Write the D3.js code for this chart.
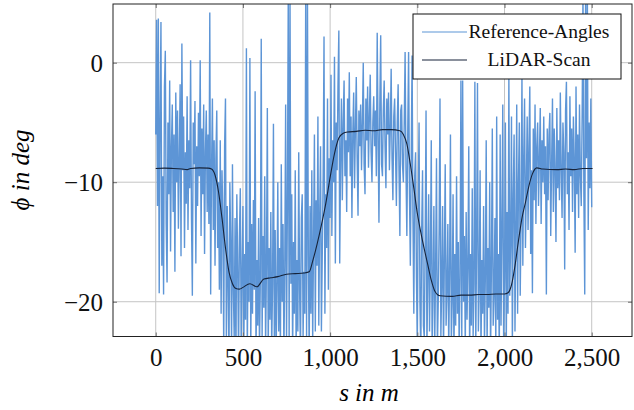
<!DOCTYPE html>
<html>
<head>
<meta charset="utf-8">
<script src="https://cdn.jsdelivr.net/npm/d3@7"></script>
<style>
  body { margin: 0; background: #fff; }
  svg { display: block; }
  .serif { font-family: "Times New Roman", "Liberation Serif", "DejaVu Serif", "Noto Serif", serif; }
</style>
</head>
<body>
<div id="chart"></div>
<script>
// reference angles, one value every 5 m (0 .. 2500 m)
let refStep = 5;
let refPhi = [
  -6.0, 3.6, -12.0, 3.7, -19.3, -4.5, 3.4, -17.0, -9.5, -19.4,       // 0
  -2.0, 1.0, -13.5, -18.4, -5.0, -11.0, -1.5, -15.8, -7.0, -3.5,     // 50
  -12.5, -6.0, -17.5, -2.5, -10.0, -4.0, -13.9, -8.0, -1.8, -16.2,   // 100
  1.6, -9.0, -4.5, -15.5, -7.5, -11.8, -2.8, -14.0, -6.5, -10.5,     // 150
  0.2, -13.0, -19.5, -5.0, -8.5, -3.2, -16.8, -7.0, -12.0, -4.2,     // 200
  -9.5, 0.2, -14.5, -5.5, -11.0, -3.5, -16.0, -7.5, -4.0, -12.5,     // 250
  -6.0, -13.5, 4.2, -19.4, -9.0, -3.0, -14.0, -6.5, -17.0, -8.0,     // 300
  -4.0, -15.5, -10.0, -19.0, -6.5, -21.0, -9.0, -13.0, -24.0, -7.0,  // 350
  -3.0, -23.5, -12.0, -18.5, -25.0, -10.0, -15.0, -24.0, -8.5, -19.0, // 400
  -23.0, -13.0, -25.0, -11.0, -17.0, -24.5, -14.5, -10.5, -23.5, -18.0, // 450
  -12.0, -24.0, -16.0, -21.5, 1.2, -24.5, -15.0, -20.0, 0.4, -24.0,  // 500
  -13.5, -21.0, -11.5, -19.0, -2.4, -24.5, -16.5, -22.0, -13.0, -24.0, // 550
  -18.0, 2.0, -23.0, -14.5, -20.5, -9.5, -24.0, -17.0, -3.8, -24.5,  // 600
  -15.5, -21.5, -12.5, -24.0, -18.5, -5.1, -23.0, -14.0, -24.5, -19.0, // 650
  -10.0, -22.5, -15.5, -24.0, -8.5, -20.0, -13.5, -24.5, -17.0, -3.5, // 700
  -23.5, -12.0, 6.0, -24.0, 6.0, -18.5, -11.0, -24.5, -15.0, -21.0,  // 750
  -9.0, -24.0, -16.5, -22.5, -7.5, -19.0, -24.5, -13.0, -11.0, -23.0, // 800
  -17.5, -21.0, 6.0, -23.5, 6.0, -16.0, -24.5, -12.0, -21.0, -9.0,   // 850
  -23.5, -15.0, -6.0, -22.5, -11.5, -17.0, -4.5, -22.0, -13.0, -7.0, // 900
  -22.5, -16.0, -9.5, 2.2, -21.0, -11.0, -15.5, -3.0, -19.0, -8.0,   // 950
  -13.0, -1.0, -14.5, -6.5, -10.0, 0.5, -16.8, -5.0, -9.0, -2.0,     // 1000
  2.7, -16.8, -8.0, -3.0, -11.5, -5.0, -1.5, -9.5, -6.5, -12.5,      // 1050
  -3.0, -7.5, -0.8, -9.5, -4.5, -13.0, -6.0, -2.5, -10.5, -5.5,      // 1100
  -1.2, -8.0, -12.8, -4.0, -7.0, -3.5, -9.0, -5.0, 0.0, -8.5,        // 1150
  -11.0, -3.0, -6.5, -2.0, -8.8, -4.5, -1.0, -7.5, -10.0, -5.0,      // 1200
  -2.8, -7.0, -4.0, -9.5, 2.5, -6.0, -13.4, -3.5, 2.3, -8.5,         // 1250
  -9.5, -4.0, -1.5, -7.0, -10.5, -3.0, -6.0, -2.5, -9.0, -5.5,       // 1300
  -0.5, -8.0, -11.5, -4.5, -3.0, -7.5, -12.0, -5.0, -1.8, -9.0,      // 1350
  -14.5, -4.0, -3.5, -8.5, -10.0, -5.0, 0.9, -9.0, -14.5, -6.0,      // 1400
  0.9, -11.0, -17.0, -8.0, 0.6, -13.0, -21.0, -9.5, -7.5, -18.0,     // 1450
  -23.5, -12.0, -5.0, -20.0, -24.5, -14.0, -9.0, -22.0, -23.0, -15.0, // 1500
  -4.0, -24.0, -18.0, -11.0, -22.5, -16.5, -6.5, -24.5, -19.0, -12.0, // 1550
  -23.5, -17.0, -8.0, -24.0, -20.0, -14.0, -3.0, -23.0, -18.5, -12.0, // 1600
  -24.5, -16.5, -8.5, -22.0, -19.0, -13.5, -24.0, -17.5, -6.0, -23.5, // 1650
  -20.0, -11.0, -24.5, -16.0, -22.0, -9.5, -21.0, -15.0, -24.0, -18.0, // 1700
  -1.5, -23.5, -1.5, -20.0, -14.5, -24.0, -12.5, -21.5, -17.0, -7.0, // 1750
  -24.5, -16.0, -22.0, -10.5, -23.0, -18.5, -1.6, -24.0, -15.0, -1.7, // 1800
  -22.5, -19.0, -9.0, -24.5, -16.5, -21.0, -12.0, -23.5, -18.0, -6.5, // 1850
  -24.0, -15.5, -20.5, -10.0, -24.5, -17.0, -5.5, -22.0, -19.5, -13.0, // 1900
  -24.0, -4.5, -21.5, -16.0, -24.5, -6.0, -22.0, -14.0, -3.5, -23.5, // 1950
  -18.0, -5.0, -24.0, -12.5, -21.0, -1.0, -19.5, -15.0, -4.5, -24.0, // 2000
  -11.0, -6.0, -22.5, -14.0, -3.5, -21.0, -10.0, -5.0, -19.5, -13.0, // 2050
  -1.0, -17.0, -8.0, -3.0, -15.5, -10.5, -4.5, -14.0, -7.0, -2.0,    // 2100
  -16.0, -9.0, -19.3, -5.5, -11.5, -3.5, -13.5, -7.0, -5.0, -12.0,   // 2150
  -8.0, -3.8, -13.5, -6.5, -10.0, -4.5, -11.0, -7.0, -19.4, -5.5,    // 2200
  -11.5, -6.0, -4.2, -14.5, -8.5, -3.0, -12.5, -5.5, -9.0, -15.0,    // 2250
  -3.8, -10.5, -6.5, -11.5, -2.5, -9.0, -13.0, -5.0, -7.5, -17.3,    // 2300
  -4.0, -1.6, -11.0, -7.5, -14.0, -2.8, -9.5, -5.5, -12.5, -4.5,     // 2350
  -8.0, -15.9, -2.0, -11.0, -6.0, -13.0, -3.5, -9.5, -12.0, -4.5,    // 2400
  6.0, -11.0, -19.4, 6.0, -8.0, 6.0, -14.0, -5.0, -10.5, -3.0,       // 2450
  -12.1                                                              // 2500
];

// LiDAR scan
let lidarS = [0, 50, 100, 150, 180, 200, 250, 300, 320, 340, 360, 380, 400, 420, 440, 460, 480, 500, 540, 580,
  620, 660, 700, 750, 800, 850, 880, 900, 925, 950, 975, 1000, 1025, 1050, 1075, 1100, 1150, 1200, 1250, 1300,
  1350, 1400, 1420, 1440, 1460, 1480, 1500, 1520, 1540, 1560, 1580, 1600, 1630, 1700, 1750, 1800, 1850, 1900, 1950, 2000,
  2020, 2040, 2060, 2080, 2100, 2120, 2140, 2160, 2185, 2220, 2300, 2350, 2400, 2450, 2505];
let lidarPhi = [-8.85, -8.82, -8.85, -8.9, -8.95, -8.85, -8.8, -8.82, -8.9, -9.4, -10.8, -13.0, -15.5, -17.5, -18.5, -18.9, -18.95, -18.8, -18.5, -18.75,
  -18.1, -18.0, -17.9, -17.7, -17.65, -17.6, -17.5, -16.6, -15.2, -13.6, -11.8, -9.6, -7.6, -6.3, -5.9, -5.8, -5.75, -5.65, -5.7, -5.6,
  -5.6, -5.7, -6.0, -6.8, -8.5, -10.5, -12.6, -14.2, -15.6, -16.9, -18.2, -19.1, -19.5, -19.55, -19.45, -19.45, -19.4, -19.4, -19.35, -19.35,
  -19.25, -18.6, -17.0, -14.9, -13.0, -11.7, -10.3, -9.3, -8.8, -8.9, -8.95, -8.9, -8.95, -8.85, -8.85];

let xTicks = [0, 500, 1000, 1500, 2000, 2500];
let yTicks = [-20, -10, 0];
let seriesNames = ["Reference-Angles", "LiDAR-Scan"];

let width = 634, height = 410;
let margin = { top: 4, right: 2, bottom: 73.5, left: 113 };
let chartWidth = width - margin.left - margin.right;
let chartHeight = height - margin.top - margin.bottom;

let blue = "#5d95d6";
let dark = "#16233a";

let svg = d3.select("#chart").append("svg")
  .attr("width", width)
  .attr("height", height);

let chartGroup = svg.append("g").attr("transform", `translate(${margin.left}, ${margin.top})`);

let xScale = d3.scaleLinear().domain([-245, 2731]).range([0, chartWidth]);
let yScale = d3.scaleLinear().domain([-22.91, 4.91]).range([chartHeight, 0]);

// grid
chartGroup.append("g").selectAll("line").data(xTicks).enter().append("line")
  .attr("x1", d => xScale(d)).attr("x2", d => xScale(d))
  .attr("y1", 0).attr("y2", chartHeight)
  .attr("stroke", "#c4c4c4").attr("stroke-width", 1);
chartGroup.append("g").selectAll("line").data(yTicks).enter().append("line")
  .attr("x1", 0).attr("x2", chartWidth)
  .attr("y1", d => yScale(d)).attr("y2", d => yScale(d))
  .attr("stroke", "#c4c4c4").attr("stroke-width", 1);

// clip
svg.append("defs").append("clipPath").attr("id", "clip")
  .append("rect").attr("width", chartWidth).attr("height", chartHeight);

let plotArea = chartGroup.append("g").attr("clip-path", "url(#clip)");

let refLine = d3.line()
  .x((d, i) => xScale(i * refStep))
  .y(d => yScale(d));

plotArea.append("path")
  .datum(refPhi)
  .attr("fill", "none")
  .attr("stroke", blue)
  .attr("stroke-width", 1.4)
  .attr("d", refLine);

let lidarLine = d3.line()
  .x((d, i) => xScale(lidarS[i]))
  .y(d => yScale(d))
  .curve(d3.curveMonotoneX);

plotArea.append("path")
  .datum(lidarPhi)
  .attr("fill", "none")
  .attr("stroke", dark)
  .attr("stroke-width", 1.1)
  .attr("d", lidarLine);

// axes (ticks inside on all four sides)
let xAxisB = d3.axisBottom(xScale).tickValues(xTicks).tickSize(-4).tickFormat(d3.format(","));
let xAxisT = d3.axisTop(xScale).tickValues(xTicks).tickSize(-4).tickFormat("");
let yAxisL = d3.axisLeft(yScale).tickValues(yTicks).tickSize(-4).tickFormat(d => d < 0 ? "\u2212" + Math.abs(d) : d);
let yAxisR = d3.axisRight(yScale).tickValues(yTicks).tickSize(-4).tickFormat("");

function styleAxis(g) {
  g.attr("font-family", null).attr("font-size", null);
  g.select(".domain").remove();
  g.selectAll(".tick line").attr("stroke", "#6e6e6e");
  g.selectAll("text").attr("class", "serif").attr("fill", "#111").style("font-size", "25px");
}

chartGroup.append("g").attr("transform", `translate(0, ${chartHeight})`).call(xAxisB).call(styleAxis)
  .selectAll("text").attr("y", 12).attr("dy", "0.71em");
chartGroup.append("g").call(xAxisT).call(styleAxis);
chartGroup.append("g").call(yAxisL).call(styleAxis)
  .selectAll("text").attr("x", -10).attr("dy", "0.34em");
chartGroup.append("g").attr("transform", `translate(${chartWidth}, 0)`).call(yAxisR).call(styleAxis);

// frame
chartGroup.append("rect")
  .attr("width", chartWidth).attr("height", chartHeight)
  .attr("fill", "none").attr("stroke", "#222").attr("stroke-width", 1);

// axis titles
svg.append("text")
  .attr("class", "serif")
  .attr("x", 369).attr("y", 401)
  .attr("text-anchor", "middle")
  .style("font-style", "italic").style("font-size", "25px")
  .text("s in m");

svg.append("text")
  .attr("class", "serif")
  .attr("transform", "rotate(-90)")
  .attr("x", -170).attr("y", 29)
  .attr("text-anchor", "middle")
  .style("font-style", "italic").style("font-size", "25px")
  .text("\u03d5 in deg");

// legend
let legend = svg.append("g").attr("transform", "translate(413, 14)");
legend.append("rect").attr("width", 208).attr("height", 65)
  .attr("fill", "#fff").attr("stroke", "#111").attr("stroke-width", 1);
let legendColors = [blue, dark];
seriesNames.forEach((name, i) => {
  let y = 18 + i * 28;
  legend.append("line").attr("x1", 9).attr("x2", 54).attr("y1", y).attr("y2", y)
    .attr("stroke", legendColors[i]).attr("stroke-width", 1.1);
  legend.append("text").attr("class", "serif").attr("x", 126).attr("y", y + 5.5)
    .attr("text-anchor", "middle")
    .style("font-size", "19.5px").attr("fill", "#111")
    .text(name);
});
</script>
</body>
</html>
